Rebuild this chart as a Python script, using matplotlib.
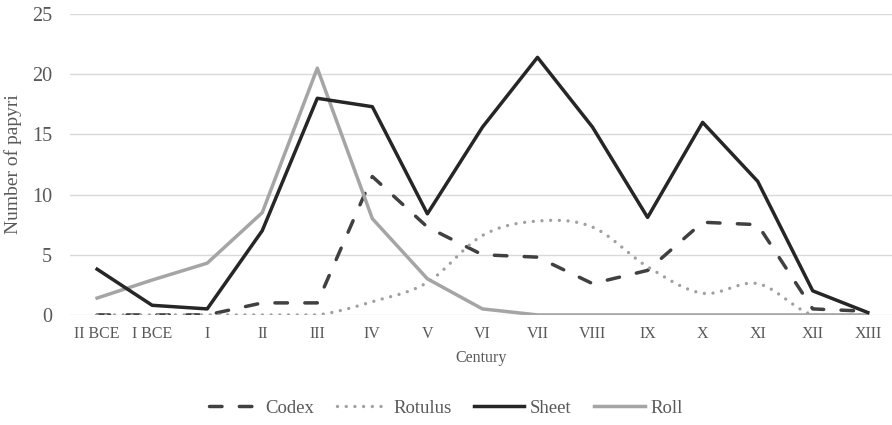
import numpy as np
import matplotlib
matplotlib.use("Agg")
import matplotlib.pyplot as plt
from matplotlib.lines import Line2D

centuries = ["II BCE", "I BCE", "I", "II", "III", "IV", "V", "VI", "VII", "VIII", "IX", "X", "XI", "XII", "XIII"]
codex   = [0, 0, 0, 1.0, 1.0, 11.5, 7.3, 5.0, 4.8, 2.6, 3.7, 7.7, 7.5, 0.5, 0.3]
rotulus = [0, 0, 0, 0, 0, 1.1, 2.7, 6.6, 7.8, 7.3, 4.0, 1.8, 2.6, 0, 0]
sheet   = [3.8, 0.8, 0.5, 7.0, 18.0, 17.3, 8.4, 15.6, 21.4, 15.6, 8.1, 16.0, 11.1, 2.0, 0.2]
roll    = [1.4, 2.9, 4.3, 8.5, 20.5, 8.0, 3.0, 0.5, 0, 0, 0, 0, 0, 0, 0]

def smooth(x, y, n=20):
    # Catmull-Rom rendering (Excel-style smoothed line) through the data points
    x = np.asarray(x, float); y = np.asarray(y, float)
    px = np.concatenate([[2*x[0]-x[1]], x, [2*x[-1]-x[-2]]])
    py = np.concatenate([[2*y[0]-y[1]], y, [2*y[-1]-y[-2]]])
    xs, ys = [], []
    for i in range(1, len(px)-2):
        t = np.linspace(0, 1, n, endpoint=False)
        for arr, out in ((px, xs), (py, ys)):
            p0, p1, p2, p3 = arr[i-1], arr[i], arr[i+1], arr[i+2]
            out.extend(0.5*((2*p1) + (-p0+p2)*t + (2*p0-5*p1+4*p2-p3)*t**2 + (-p0+3*p1-3*p2+p3)*t**3))
    xs.append(x[-1]); ys.append(y[-1])
    return np.array(xs), np.array(ys)

plt.rcParams['font.family'] = ['Liberation Serif', 'DejaVu Serif']
txt = '#595959'

fig = plt.figure(figsize=(8.92, 4.25), dpi=100)
ax = fig.add_axes([0.078, 0.259, 0.922, 0.708])

x = np.arange(len(centuries))
r_x, r_y = smooth(x, rotulus)
r_y = np.clip(r_y, 0, None)

codex_ls = (0, (3.6, 5.0))
rot_ls = (0, (0.01, 2.6))
ax.plot(x, codex, color='#404040', lw=2.5, ls=codex_ls, dash_capstyle='round', zorder=3)
ax.plot(r_x, r_y, color='#a0a0a0', lw=2.4, ls=rot_ls, dash_capstyle='round', zorder=3)
ax.plot(x, sheet, color='#262626', lw=2.5, zorder=4)
ax.plot(x, roll, color='#a5a5a5', lw=2.5, zorder=3)

ax.set_xlim(-0.5, 14.44)
ax.set_ylim(0, 25)
ax.set_yticks([0, 5, 10, 15, 20, 25])
ax.set_xticks(x)
ax.set_xticklabels(centuries)
ax.grid(axis='y', color='#d9d9d9', lw=1)
ax.set_axisbelow(True)
for s in ax.spines.values():
    s.set_visible(False)
ax.tick_params(length=0, colors=txt)
ax.tick_params(axis='x', labelsize=11.5, pad=8)
ax.tick_params(axis='y', labelsize=14.5, pad=12.5)
ax.set_xlabel('Century', fontsize=11.5, color=txt, labelpad=6)
ax.set_ylabel('Number of papyri', fontsize=14, color=txt)
ax.yaxis.set_label_coords(-0.058, 0.5)

handles = [
    Line2D([], [], color='#404040', lw=2.5, ls=codex_ls, dash_capstyle='round'),
    Line2D([], [], color='#a0a0a0', lw=2.4, ls=rot_ls, dash_capstyle='round'),
    Line2D([], [], color='#262626', lw=2.5),
    Line2D([], [], color='#a5a5a5', lw=2.5),
]
fig.legend(handles, ['Codex', 'Rotulus', 'Sheet', 'Roll'], loc='center', bbox_to_anchor=(0.5, 0.04),
           ncol=4, frameon=False, fontsize=13.5, labelcolor=txt, handlelength=2.7, columnspacing=1.2, handletextpad=0.3)

fig.savefig('out.png', dpi=100)
